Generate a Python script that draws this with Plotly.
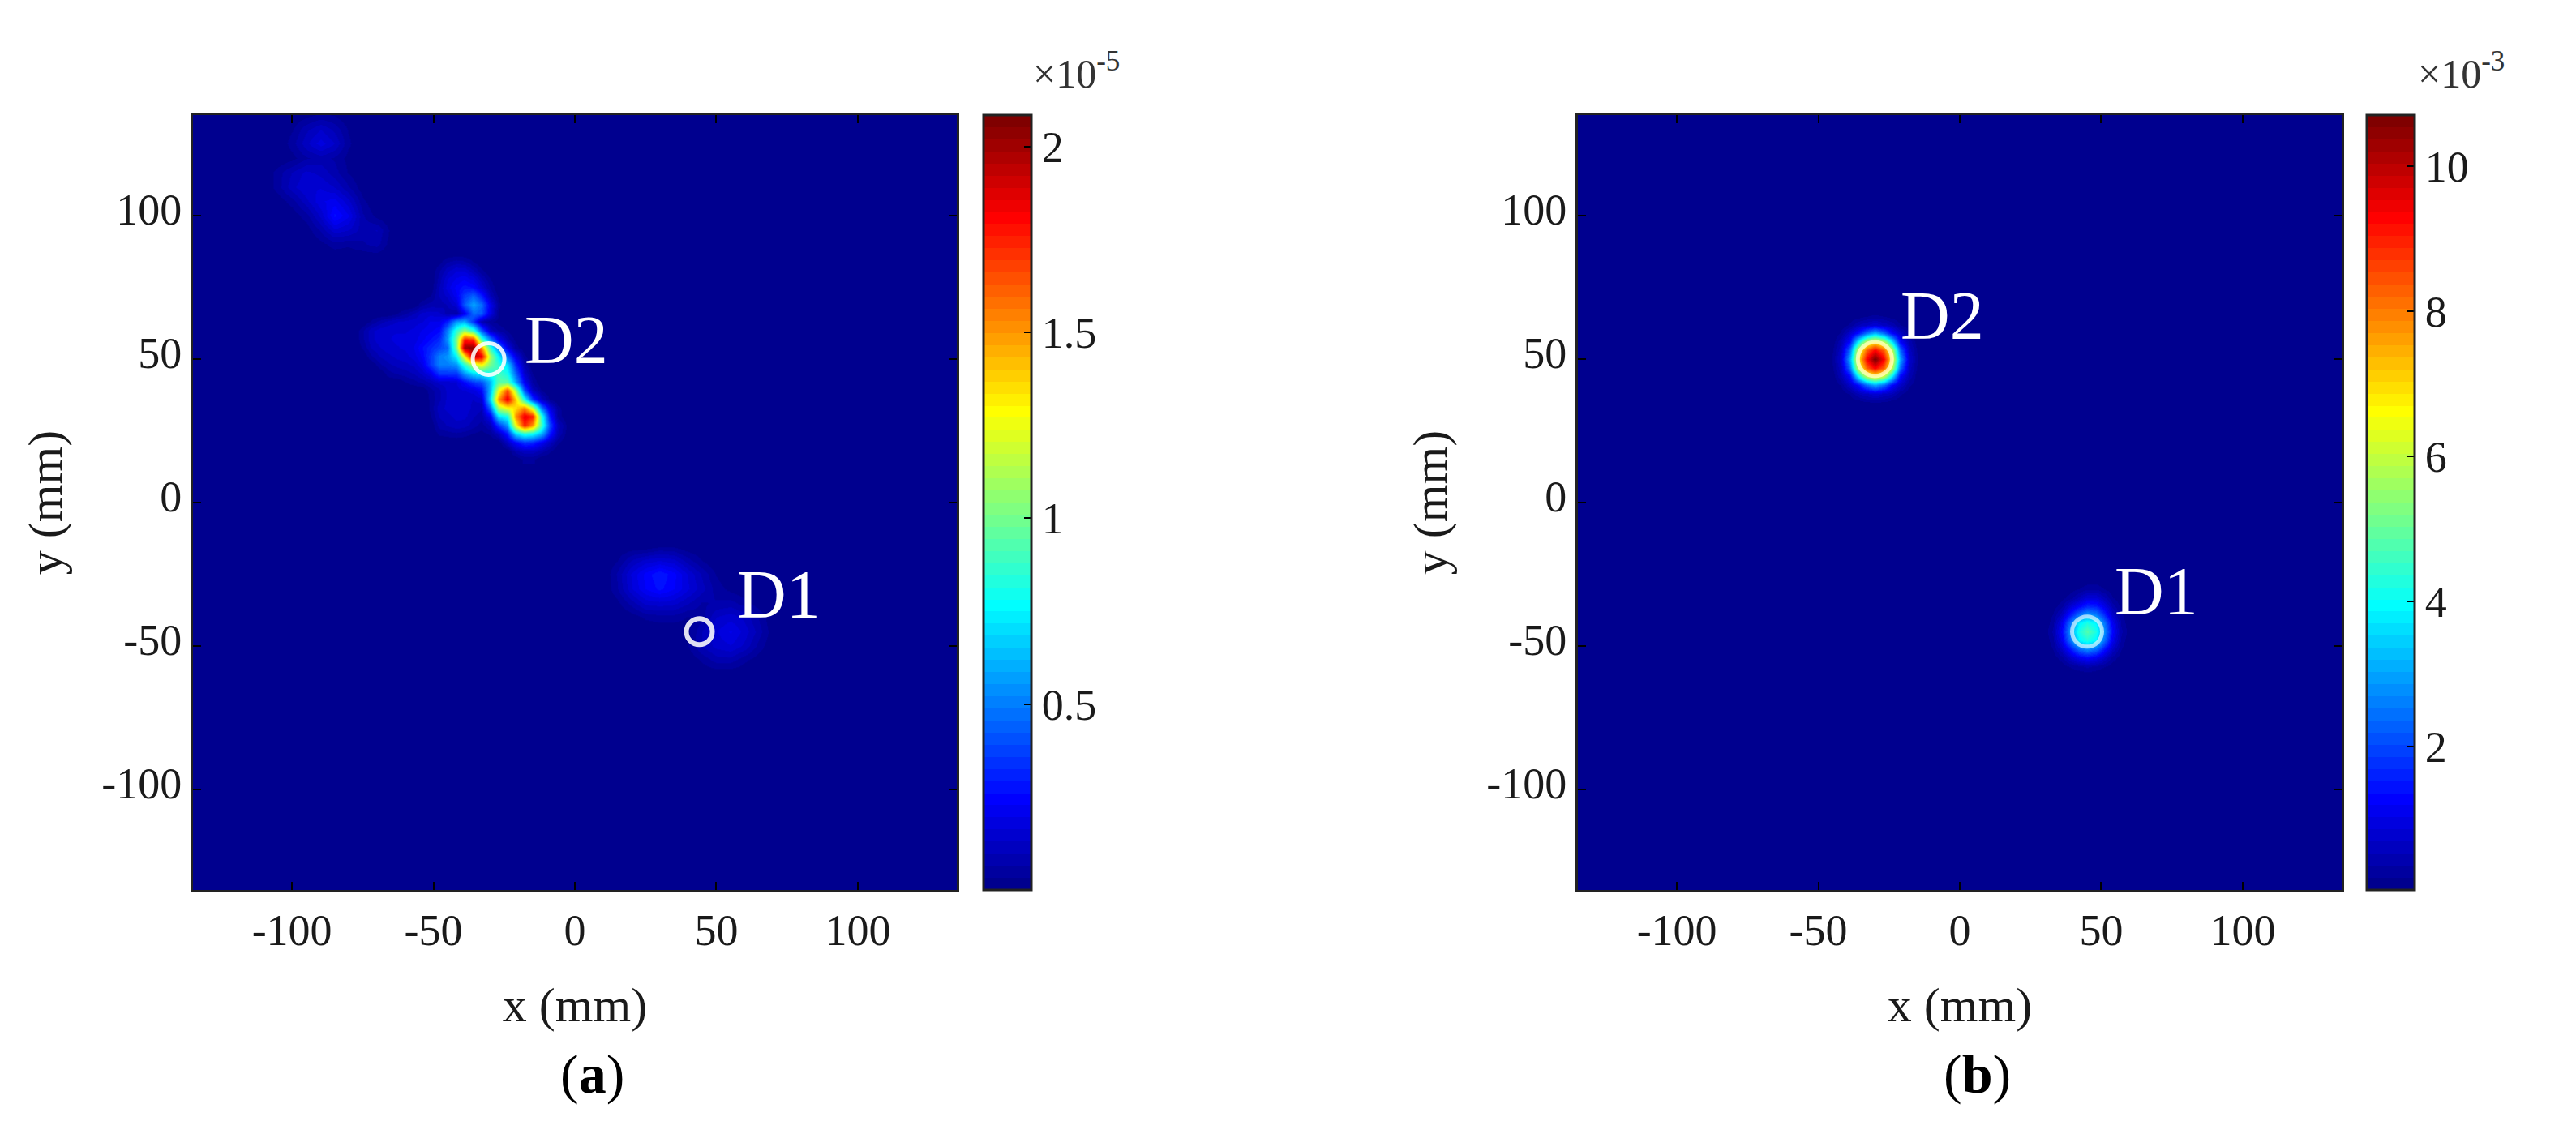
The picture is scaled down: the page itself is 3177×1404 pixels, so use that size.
import plotly.graph_objects as go

W, H = 3177, 1404
PAGE_MARGIN = 8
FONT = "Liberation Serif"
INK = "#1a1a1a"

# tick labels
axis_ticks = [-100, -50, 0, 50, 100]
axis_labels = ["-100", "-50", "0", "50", "100"]
bar_a_ticks = [0.5, 1, 1.5, 2]
bar_a_labels = ["0.5", "1", "1.5", "2"]
bar_b_ticks = [2, 4, 6, 8, 10]
bar_b_labels = ["2", "4", "6", "8", "10"]

# defect positions, mm
defect_x = [44, -30.5]
defect_y = [-45, 50]
defect_b_x = [45, -30]
defect_b_y = [-45, 50]

# panel (a), hundredths of 1e-5, main cluster
main_x = list(range(-78, 3, 3))
main_y = list(range(87, 12, -3))
main_z = [
    [0] * 27,
    [0] * 10 + [2, 6, 8, 7, 3] + [0] * 12,
    [0] * 10 + [6, 12, 16, 16, 10, 4] + [0] * 11,
    [0] * 10 + [8, 16, 20, 22, 18, 10, 3] + [0] * 10,
    [0] * 10 + [10, 18, 24, 28, 26, 16, 6] + [0] * 10,
    [0] * 9 + [3, 10, 14, 22, 36, 44, 30, 10, 2] + [0] * 9,
    [0] * 8 + [6, 8, 8, 10, 16, 42, 58, 46, 20, 4] + [0] * 9,
    [0] * 5 + [3, 6, 10, 14, 15, 14, 8, 6, 22, 46, 42, 18, 3] + [0] * 9,
    [0] * 2 + [4, 8, 11, 13, 14, 15, 16, 20, 20, 30, 55, 60, 34, 8, 4, 2] + [0] * 9,
    [0, 6, 12, 15, 16, 16, 16, 17, 20, 22, 25, 50, 85, 105, 85, 42, 12, 6, 3] + [0] * 8,
    [0, 6, 12, 15, 16, 17, 17, 18, 22, 26, 32, 55, 100, 175, 170, 90, 50, 22, 8, 2] + [0] * 7,
    [0, 4, 10, 13, 15, 16, 17, 20, 26, 32, 38, 45, 100, 200, 205, 150, 85, 50, 20, 5] + [0] * 7,
    [0] * 2 + [6, 10, 12, 14, 15, 18, 24, 35, 50, 55, 75, 130, 195, 185, 110, 75, 45, 20, 4] + [0] * 6,
    [0] * 3 + [6, 9, 11, 12, 14, 20, 35, 50, 50, 55, 85, 115, 130, 100, 85, 70, 32, 8] + [0] * 6,
    [0] * 4 + [5, 7, 8, 10, 14, 20, 35, 35, 35, 55, 70, 75, 80, 90, 80, 45, 14, 3] + [0] * 5,
    [0] * 6 + [3, 5, 7, 10, 14, 14, 16, 25, 35, 40, 62, 95, 95, 60, 22, 6] + [0] * 5,
    [0] * 9 + [5, 9, 14, 15, 16, 18, 25, 62, 125, 165, 110, 40, 12, 3] + [0] * 4,
    [0] * 9 + [4, 9, 14, 15, 14, 13, 15, 70, 150, 185, 140, 80, 35, 12, 3] + [0] * 3,
    [0] * 9 + [4, 12, 14, 15, 15, 12, 10, 45, 110, 125, 135, 155, 120, 50, 20, 5] + [0] * 2,
    [0] * 9 + [3, 10, 12, 14, 14, 10, 8, 22, 70, 80, 150, 185, 175, 85, 30, 6] + [0] * 2,
    [0] * 10 + [8, 10, 12, 11, 8, 5, 10, 35, 55, 125, 175, 150, 90, 40, 12, 3] + [0],
    [0] * 10 + [4, 5, 6, 5, 3, 2, 4, 12, 30, 70, 85, 80, 62, 30, 10, 2] + [0],
    [0] * 18 + [12, 25, 35, 32, 22, 12, 4] + [0] * 2,
    [0] * 19 + [8, 12, 12, 8, 4] + [0] * 3,
    [0] * 20 + [4, 4] + [0] * 5,
]

# panel (a), faint lobes at the top left
upper_x = [-110, -105, -100, -95, -90, -85, -80, -75, -70, -65]
upper_y = [135, 130, 125, 120, 115, 110, 105, 100, 95, 90, 85]
upper_z = [
    [0, 0, 0, 2, 4, 3, 0, 0, 0, 0],
    [0, 0, 3, 9, 13, 9, 3, 0, 0, 0],
    [0, 0, 5, 12, 18, 13, 4, 0, 0, 0],
    [0, 0, 2, 6, 8, 6, 2, 0, 0, 0],
    [0, 5, 10, 14, 12, 8, 3, 0, 0, 0],
    [0, 5, 12, 16, 16, 13, 7, 1, 0, 0],
    [0, 1, 5, 12, 19, 21, 14, 4, 0, 0],
    [0, 0, 1, 5, 14, 27, 20, 7, 2, 0],
    [0, 0, 0, 1, 7, 15, 13, 8, 10, 2],
    [0, 0, 0, 0, 2, 5, 4, 6, 8, 1],
    [0] * 10,
]

# panel (a), around D1
lower_x = [10, 15, 20, 25, 30, 35, 40, 45, 50, 55, 60, 65, 70]
lower_y = [-15, -20, -25, -30, -35, -40, -45, -50, -55, -60]
lower_z = [
    [0, 0, 0, 0, 2, 2, 0, 0, 0, 0, 0, 0, 0],
    [0, 3, 10, 14, 16, 14, 8, 3, 0, 0, 0, 0, 0],
    [0, 7, 17, 24, 29, 24, 16, 9, 3, 0, 0, 0, 0],
    [0, 6, 16, 23, 27, 23, 17, 11, 5, 2, 0, 0, 0],
    [0, 2, 8, 14, 15, 14, 10, 6, 7, 8, 5, 1, 0],
    [0, 0, 1, 4, 5, 5, 3, 5, 13, 15, 12, 6, 0],
    [0, 0, 0, 0, 0, 0, 2, 10, 16, 20, 15, 8, 1],
    [0, 0, 0, 0, 0, 0, 3, 10, 14, 16, 12, 5, 0],
    [0, 0, 0, 0, 0, 0, 0, 4, 8, 8, 4, 1, 0],
    [0] * 13,
]

# panel (b), hundredths of 1e-3, D2 spot
spot2_x = list(range(-48, -9, 3))
spot2_y = list(range(68, 29, -3))
spot2_z = [
    [0, 0, 0, 1, 2, 2, 3, 2, 2, 1, 0, 0, 0],
    [0, 0, 1, 4, 9, 18, 22, 18, 9, 4, 1, 0, 0],
    [0, 1, 5, 22, 52, 68, 85, 65, 50, 20, 5, 1, 0],
    [1, 4, 22, 75, 140, 250, 320, 240, 130, 70, 20, 4, 1],
    [2, 8, 50, 135, 390, 610, 680, 600, 380, 130, 50, 8, 2],
    [2, 18, 65, 240, 600, 830, 930, 830, 600, 240, 65, 18, 2],
    [2, 20, 80, 300, 670, 930, 1070, 930, 670, 300, 80, 20, 2],
    [2, 18, 65, 240, 600, 830, 930, 830, 600, 240, 65, 18, 2],
    [2, 8, 50, 130, 380, 600, 670, 600, 380, 130, 50, 8, 2],
    [1, 4, 20, 70, 130, 240, 300, 240, 130, 70, 22, 6, 1],
    [0, 1, 5, 20, 50, 65, 80, 65, 52, 22, 6, 1, 0],
    [0, 0, 1, 4, 8, 18, 20, 18, 9, 4, 1, 0, 0],
    [0, 0, 0, 1, 2, 2, 2, 2, 2, 1, 0, 0, 0],
]

# panel (b), D1 spot
spot1_x = list(range(27, 66, 3))
spot1_y = list(range(-27, -66, -3))
spot1_z = [
    [0, 0, 0, 0, 1, 3, 6, 8, 5, 1, 0, 0, 0],
    [0, 0, 1, 3, 8, 18, 30, 30, 18, 6, 1, 0, 0],
    [0, 1, 3, 12, 28, 55, 85, 85, 55, 20, 4, 1, 0],
    [0, 2, 8, 30, 75, 120, 160, 150, 100, 45, 12, 2, 0],
    [0, 3, 20, 65, 150, 240, 290, 260, 170, 75, 22, 3, 0],
    [1, 5, 30, 110, 240, 380, 420, 380, 250, 115, 32, 5, 1],
    [1, 8, 40, 130, 280, 420, 480, 420, 280, 130, 40, 8, 1],
    [1, 5, 30, 110, 240, 380, 420, 380, 240, 110, 30, 5, 1],
    [0, 3, 20, 70, 150, 240, 280, 240, 150, 70, 20, 3, 0],
    [0, 2, 8, 30, 70, 110, 130, 110, 70, 30, 8, 2, 0],
    [0, 0, 2, 8, 20, 30, 40, 30, 20, 8, 2, 0, 0],
    [0, 0, 0, 2, 4, 7, 8, 7, 4, 2, 0, 0, 0],
    [0, 0, 0, 0, 0, 1, 1, 1, 0, 0, 0, 0, 0],
]


def jet_scale(levels=64):
    # banded jet colormap, one flat step per level
    def channel(v):
        return round(255 * max(0.0, min(1.0, v)))

    stops = []
    for i in range(levels):
        f = (i + 1) / levels
        r = channel(min(4 * f - 1.5, -4 * f + 4.5))
        g = channel(min(4 * f - 0.5, -4 * f + 3.5))
        b = channel(min(4 * f + 0.5, -4 * f + 2.5))
        stops.append([i / levels, f"rgb({r},{g},{b})"])
        stops.append([(i + 1) / levels, f"rgb({r},{g},{b})"])
    return stops


def hundredths(rows):
    return [[v / 100 for v in row] for row in rows]


def px_x(v):
    return (v - PAGE_MARGIN) / W


def px_y(v):
    return 1 - (v - PAGE_MARGIN) / H


def axis_style(domain, anchor, title, standoff, label_shift=0):
    return dict(
        domain=domain, anchor=anchor, range=[-135, 135],
        tickmode="array", tickvals=axis_ticks, ticktext=axis_labels,
        ticks="inside", ticklen=10, tickwidth=2, tickcolor="black",
        showline=True, linecolor="#222", linewidth=3, mirror="ticks",
        showgrid=False, zeroline=False, ticklabelshift=label_shift,
        tickfont=dict(family=FONT, size=54, color=INK),
        title=dict(text=title, standoff=standoff, font=dict(family=FONT, size=60, color=INK)),
    )


def colorbar(left, ticks, labels):
    return dict(
        x=px_x(left), xanchor="left", xpad=0, ypad=0,
        y=px_y(1098), yanchor="bottom", lenmode="fraction", len=(1098 - 142) / H,
        thickness=59, thicknessmode="pixels",
        outlinecolor="#222", outlinewidth=3,
        tickmode="array", tickvals=ticks, ticktext=labels,
        ticks="inside", ticklen=10, tickwidth=2, tickcolor="black",
        tickfont=dict(family=FONT, size=54, color=INK),
    )


fig = go.Figure()

panel_a = [(main_x, main_y, main_z), (upper_x, upper_y, upper_z), (lower_x, lower_y, lower_z)]
for xs, ys, zs in panel_a:
    fig.add_trace(go.Heatmap(x=xs, y=ys, z=hundredths(zs), zsmooth="best",
                             coloraxis="coloraxis", xaxis="x", yaxis="y"))

panel_b = [(spot2_x, spot2_y, spot2_z), (spot1_x, spot1_y, spot1_z)]
for xs, ys, zs in panel_b:
    fig.add_trace(go.Heatmap(x=xs, y=ys, z=hundredths(zs), zsmooth="best",
                             coloraxis="coloraxis2", xaxis="x2", yaxis="y2"))

# defect rings
RING = "rgba(255,255,255,0.88)"
fig.add_trace(go.Scatter(
    x=[defect_x[0]], y=[defect_y[0]], mode="markers", xaxis="x", yaxis="y",
    marker=dict(symbol="circle-open", size=32, color=RING, line=dict(width=6)),
))
fig.add_trace(go.Scatter(
    x=[defect_x[1]], y=[defect_y[1]], mode="markers", xaxis="x", yaxis="y",
    marker=dict(symbol="circle-open", size=39, color=RING, line=dict(width=5)),
))
fig.add_trace(go.Scatter(
    x=defect_b_x, y=defect_b_y, mode="markers", xaxis="x2", yaxis="y2",
    marker=dict(symbol="circle-open", size=[37, 42], color=RING, line=dict(width=5)),
))

y_domain = [px_y(1098), px_y(142)]
fig.update_layout(
    width=W, height=H, margin=dict(l=0, r=0, t=0, b=0),
    paper_bgcolor="white", plot_bgcolor="rgb(0,0,143)", showlegend=False,
    xaxis=axis_style([px_x(238), px_x(1180)], "y", "x (mm)", 42),
    yaxis=axis_style(y_domain, "x", "y (mm)", 30, label_shift=-8),
    xaxis2=axis_style([px_x(1946), px_x(2888)], "y2", "x (mm)", 42),
    yaxis2=axis_style(y_domain, "x2", "y (mm)", 30, label_shift=-8),
    coloraxis=dict(colorscale=jet_scale(), cmin=0, cmax=2.085,
                   colorbar=colorbar(1213, bar_a_ticks, bar_a_labels)),
    coloraxis2=dict(colorscale=jet_scale(), cmin=0.02, cmax=10.7,
                    colorbar=colorbar(2919, bar_b_ticks, bar_b_labels)),
)

# defect labels
for text, xref, yref, x, y in [
    ("D2", "x", "y", -18.3, 56.6),
    ("D1", "x", "y", 56.8, -32),
    ("D2", "x2", "y2", -21.4, 65),
    ("D1", "x2", "y2", 54.3, -30.8),
]:
    fig.add_annotation(text=text, xref=xref, yref=yref, x=x, y=y, xanchor="left", yanchor="middle",
                       showarrow=False, font=dict(family=FONT, size=84, color="white"))

# colorbar multipliers and panel letters
for text, x in [("×10<sup>-5</sup>", 1272), ("×10<sup>-3</sup>", 2980)]:
    fig.add_annotation(text=text, xref="paper", yref="paper", x=px_x(x), y=px_y(88),
                       xanchor="left", yanchor="middle", showarrow=False,
                       font=dict(family=FONT, size=50, color="#333"))
for text, x in [("(<b>a</b>)", 730), ("(<b>b</b>)", 2438)]:
    fig.add_annotation(text=text, xref="paper", yref="paper", x=px_x(x), y=px_y(1325),
                       xanchor="center", yanchor="middle", showarrow=False,
                       font=dict(family=FONT, size=68, color="black"))

fig.write_html("out.html")
